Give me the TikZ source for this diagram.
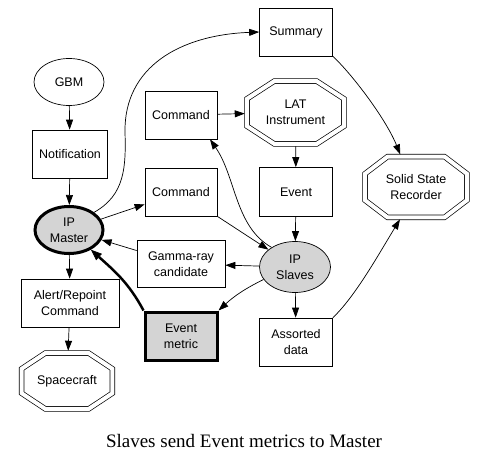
\documentclass[tikz,border=0pt]{standalone}
\usepackage{fontspec}
\setmainfont{Liberation Serif}
\setsansfont{Liberation Sans}
\usetikzlibrary{shapes.geometric,arrows.meta,calc}

\tikzset{
  every node/.style={font=\sffamily\fontsize{12.5}{16}\selectfont, align=center, inner sep=0pt},
  box/.style={draw, rectangle, minimum width=73pt, minimum height=48pt},
  oval/.style={draw, ellipse, minimum width=71pt, minimum height=51pt},
  octa/.style={rectangle},
  arr/.style={-{Triangle[length=10pt,width=7pt]}, line width=0.7pt},
  thickarr/.style={-{Triangle[length=11pt,width=8.5pt,line width=0.7pt]}, line width=2.5pt},
}

\begin{document}
\begin{tikzpicture}[x=1pt, y=1pt, line width=0.7pt]
    \useasboundingbox (0,0) rectangle (487,467);

    % linke Spalte
    \node[oval, minimum width=70pt, minimum height=47pt] (gbm) at (69,385) {GBM};
    \node[box, minimum width=75pt] (notif) at (70,313) {Notification};
    \node[oval, line width=3pt, fill=black!17, minimum width=68pt, minimum height=47pt] (master) at (69,237) {IP\\Master};
    \node[box, minimum width=98pt] (alert) at (70,164) {Alert/Repoint\\Command};
    \node[octa, minimum width=90pt, minimum height=55pt] (craft) at (67,86) {Spacecraft};

    % mittlere Spalte
    \node[box, minimum width=72pt] (cmdA) at (181,352) {Command};
    \node[box, minimum width=72pt] (cmdB) at (181,275) {Command};
    \node[box, minimum width=88pt, minimum height=47pt] (gamma) at (181,203) {Gamma-ray\\candidate};
    \node[box, line width=3pt, fill=black!17, minimum width=72pt] (metric) at (181,131) {Event\\metric};

    % rechte Spalte
    \node[box] (summary) at (296,435) {Summary};
    \node[octa, minimum width=96pt, minimum height=62pt] (lat) at (295.5,354.5) {LAT\\Instrument};
    \node[box, minimum height=49pt] (event) at (296,275) {Event};
    \node[oval, fill=black!17] (slaves) at (295,200) {IP\\Slaves};
    \node[box] (assorted) at (296,125) {Assorted\\data};
    \node[octa, minimum width=101pt, minimum height=60pt] (ssr) at (416,280) {Solid State\\Recorder};

    \node[font=\rmfamily\fontsize{19}{22}\selectfont] (caption) at (244,26) {Slaves send Event metrics to Master};

    % Achtecke mit Doppellinie
    \foreach \o/\f in {lat/0.28, ssr/0.22, craft/0.26} {
      \draw[double, double distance=4pt, line join=miter]
        ($(\o.north west)!\f!(\o.north east)$) -- ($(\o.north east)!\f!(\o.north west)$)
        -- ($(\o.north east)!0.28!(\o.south east)$) -- ($(\o.south east)!0.28!(\o.north east)$)
        -- ($(\o.south east)!\f!(\o.south west)$) -- ($(\o.south west)!\f!(\o.south east)$)
        -- ($(\o.south west)!0.28!(\o.north west)$) -- ($(\o.north west)!0.28!(\o.south west)$) -- cycle;
    }

    % Pfeile
    \draw[arr] (gbm) -- (notif);
    \draw[arr] (notif) -- (master);
    \draw[arr] (master) -- (alert);
    \draw[arr, shorten >=2.4pt] (alert) -- (craft);
    \draw[arr] (master) -- (cmdB);
    \draw[arr, shorten >=2.4pt] (cmdA) -- (lat);
    \draw[arr, shorten <=2.4pt] (lat) -- (event);
    \draw[arr] (event) -- (slaves);
    \draw[arr] (cmdB.south east) -- (slaves);
    \draw[arr] (slaves) -- (gamma);
    \draw[arr] (gamma) -- (master);
    \draw[arr] (slaves) -- (assorted);
    \draw[arr] (slaves) to[bend right=8] (metric.north east);
    \draw[thickarr] (metric.north west) to[out=118, in=-42] (master);
    \draw[arr] (slaves.140) .. controls (235,240) and (236,290) .. (cmdA.-40);
    \draw[arr] (master.north east) .. controls (125,272) and (126,300) .. (125,335)
        .. controls (124,400) and (180,432) .. (summary.west);
    \draw[arr, shorten >=2.4pt] (summary.south east) .. controls (350,395) and (385,350) .. (ssr.116);
    \draw[arr, shorten >=2.4pt] (assorted.north east) .. controls (355,170) and (380,215) .. (ssr.-116);
\end{tikzpicture}
\end{document}
